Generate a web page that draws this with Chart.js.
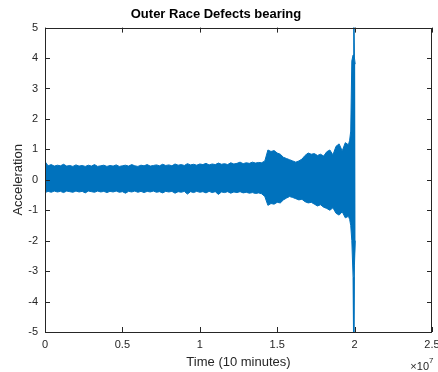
<!DOCTYPE html>
<html>
<head>
<meta charset="utf-8">
<script src="https://cdn.jsdelivr.net/npm/chart.js@4.4.1/dist/chart.umd.min.js"></script>
<style>
  html, body { margin: 0; padding: 0; background: #fff; }
</style>
</head>
<body>
<canvas id="myChart" width="438" height="372"></canvas>
<script>
// time in units of 10^7 samples, envelope of the vibration signal
const time = [
  0.00, 0.02, 0.04, 0.06, 0.08, 0.10, 0.12, 0.14, 0.16, 0.18,
  0.20, 0.22, 0.24, 0.26, 0.28, 0.30, 0.32, 0.34, 0.36, 0.38,
  0.40, 0.42, 0.44, 0.46, 0.48, 0.50, 0.52, 0.54, 0.56, 0.58,
  0.60, 0.62, 0.64, 0.66, 0.68, 0.70, 0.72, 0.74, 0.76, 0.78,
  0.80, 0.82, 0.84, 0.86, 0.88, 0.90, 0.92, 0.94, 0.96, 0.98,
  1.00, 1.02, 1.04, 1.06, 1.08, 1.10, 1.12, 1.14, 1.16, 1.18,
  1.20, 1.22, 1.24, 1.26, 1.28, 1.30, 1.32, 1.34, 1.36, 1.38,
  1.40, 1.42, 1.44, 1.46, 1.48, 1.50, 1.52, 1.54, 1.56, 1.58,
  1.60, 1.62, 1.64, 1.66, 1.68, 1.70, 1.72, 1.74, 1.76, 1.78,
  1.80, 1.82, 1.84, 1.86, 1.88, 1.90, 1.92, 1.94, 1.96,
  1.968, 1.975, 1.982, 1.990, 1.993, 1.996, 1.999, 2.004, 2.007
];
const upper = [
  0.60, 0.46, 0.50, 0.45, 0.48, 0.46, 0.51, 0.45, 0.47, 0.44,
  0.49, 0.45, 0.47, 0.44, 0.48, 0.45, 0.50, 0.44, 0.46, 0.48,
  0.44, 0.47, 0.45, 0.49, 0.44, 0.46, 0.48, 0.45, 0.50, 0.46,
  0.44, 0.48, 0.46, 0.50, 0.45, 0.47, 0.49, 0.46, 0.51, 0.47,
  0.49, 0.46, 0.52, 0.48, 0.50, 0.47, 0.53, 0.49, 0.51, 0.48,
  0.52, 0.50, 0.54, 0.49, 0.52, 0.50, 0.55, 0.51, 0.53, 0.50,
  0.56, 0.52, 0.54, 0.58, 0.53, 0.56, 0.54, 0.58, 0.55, 0.57,
  0.56, 0.62, 0.98, 0.93, 0.96, 0.88, 0.84, 0.74, 0.70, 0.66,
  0.62, 0.58, 0.62, 0.68, 0.80, 0.88, 0.84, 0.86, 0.80, 0.84,
  0.78, 0.92, 0.98, 0.82, 1.10, 1.18, 0.95, 1.22, 1.15,
  1.30, 1.60, 3.90, 4.10, 6.00, 6.00, 4.00, 3.80, 3.80
];
const lower = [
  -0.42, -0.38, -0.41, -0.37, -0.40, -0.38, -0.42, -0.37, -0.39, -0.41,
  -0.37, -0.40, -0.38, -0.43, -0.37, -0.39, -0.41, -0.37, -0.40, -0.38,
  -0.42, -0.38, -0.40, -0.37, -0.41, -0.39, -0.44, -0.38, -0.40, -0.37,
  -0.41, -0.38, -0.42, -0.38, -0.40, -0.37, -0.41, -0.39, -0.43, -0.38,
  -0.40, -0.38, -0.44, -0.39, -0.41, -0.38, -0.47, -0.39, -0.42, -0.38,
  -0.41, -0.39, -0.43, -0.38, -0.42, -0.39, -0.48, -0.40, -0.42, -0.39,
  -0.44, -0.40, -0.42, -0.39, -0.43, -0.41, -0.44, -0.42, -0.45, -0.43,
  -0.46, -0.55, -0.84, -0.78, -0.80, -0.74, -0.76, -0.66, -0.60, -0.55,
  -0.58, -0.62, -0.66, -0.64, -0.72, -0.76, -0.74, -0.80, -0.86, -0.82,
  -0.90, -0.94, -1.00, -0.92, -1.10, -1.16, -1.05, -1.25, -1.20,
  -1.30, -1.50, -2.00, -3.20, -6.00, -6.00, -2.80, -2.00, -2.00
];
const xTicks = [0, 0.5, 1, 1.5, 2, 2.5];
const yTicks = [-5, -4, -3, -2, -1, 0, 1, 2, 3, 4, 5];

const blue = "rgb(0,114,189)";
const ink = "#262626";
const FONT = "'Liberation Sans', Arial, Helvetica, sans-serif";

const upperPts = time.map((t, i) => ({ x: t, y: upper[i] }));
const lowerPts = time.map((t, i) => ({ x: t, y: lower[i] }));

// matlab-like box with inward ticks on all four sides + x10^7 exponent
const matlabAxes = {
  id: "matlabAxes",
  afterDraw(chart) {
    const { ctx, chartArea: a, scales } = chart;
    ctx.save();
    ctx.strokeStyle = ink;
    ctx.lineWidth = 1;
    ctx.strokeRect(Math.round(a.left) + 0.5, Math.round(a.top) + 0.5,
      Math.round(a.right - a.left) - 1, Math.round(a.bottom - a.top));
    const len = 5;
    ctx.beginPath();
    xTicks.forEach((v) => {
      const px = Math.round(scales.x.getPixelForValue(v)) + 0.5;
      ctx.moveTo(px, a.bottom); ctx.lineTo(px, a.bottom - len);
      ctx.moveTo(px, a.top); ctx.lineTo(px, a.top + len);
    });
    yTicks.forEach((v) => {
      const py = Math.round(scales.y.getPixelForValue(v)) + 0.5;
      ctx.moveTo(a.left, py); ctx.lineTo(a.left + len, py);
      ctx.moveTo(a.right, py); ctx.lineTo(a.right - len, py);
    });
    ctx.stroke();

    ctx.fillStyle = ink;
    ctx.textBaseline = "alphabetic";
    ctx.textAlign = "right";
    ctx.font = "11px " + FONT;
    ctx.fillText("\u00d710", 429, 370);
    ctx.font = "8px " + FONT;
    ctx.textAlign = "left";
    ctx.fillText("7", 429, 363);
    ctx.restore();
  },
};

const ctx = document.getElementById("myChart").getContext("2d");
new Chart(ctx, {
  type: "line",
  data: {
    datasets: [
      {
        label: "upper",
        data: upperPts,
        borderColor: blue,
        backgroundColor: blue,
        borderWidth: 1,
        pointRadius: 0,
        tension: 0,
        fill: "+1",
      },
      {
        label: "lower",
        data: lowerPts,
        borderColor: blue,
        backgroundColor: blue,
        borderWidth: 1,
        pointRadius: 0,
        tension: 0,
        fill: false,
      },
    ],
  },
  options: {
    responsive: false,
    animation: false,
    events: [],
    layout: { padding: { left: 0, right: 6, top: 0, bottom: 0 } },
    plugins: {
      legend: { display: false },
      tooltip: { enabled: false },
      title: {
        display: true,
        text: "Outer Race Defects bearing",
        color: "#000",
        font: { family: FONT, size: 13, weight: "bold" },
        padding: { top: 7, bottom: 5 },
      },
    },
    scales: {
      x: {
        type: "linear",
        min: 0,
        max: 2.5,
        grid: { display: false, drawTicks: false },
        border: { display: false },
        ticks: {
          stepSize: 0.5,
          color: ink,
          font: { family: FONT, size: 11 },
          padding: 6,
          maxRotation: 0,
          callback: (v) => String(v),
        },
        title: {
          display: true,
          text: "Time (10 minutes)",
          color: ink,
          font: { family: FONT, size: 13 },
          padding: { top: 0, bottom: 2 },
        },
        afterFit(scale) {
          scale.height = 40;
          scale.paddingLeft = 0;
          scale.paddingRight = 0;
        },
      },
      y: {
        type: "linear",
        min: -5,
        max: 5,
        grid: { display: false, drawTicks: false },
        border: { display: false },
        ticks: {
          stepSize: 1,
          color: ink,
          font: { family: FONT, size: 11 },
          padding: 7,
        },
        title: {
          display: true,
          text: "Acceleration",
          color: ink,
          font: { family: FONT, size: 13 },
          padding: { top: 11, bottom: 0 },
        },
        afterFit(scale) { scale.width = 45; },
      },
    },
  },
  plugins: [matlabAxes],
});
</script>
</body>
</html>
